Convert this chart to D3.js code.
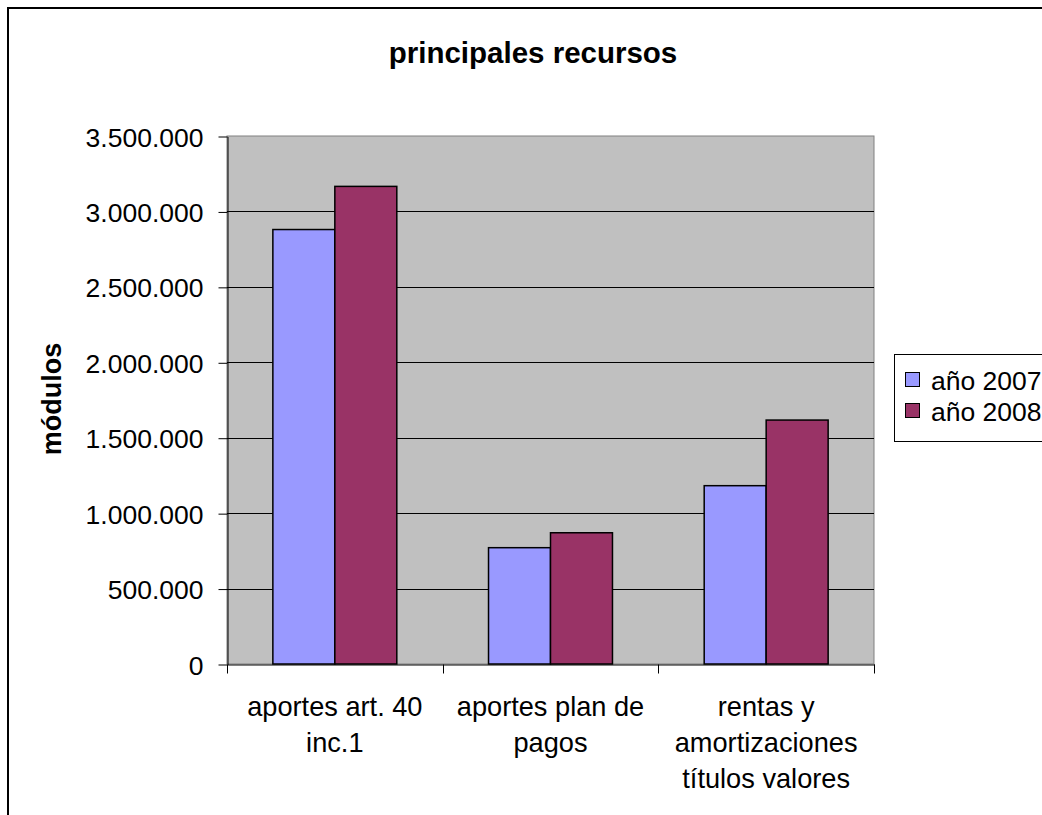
<!DOCTYPE html>
<html>
<head>
<meta charset="utf-8">
<script src="https://cdn.jsdelivr.net/npm/d3@7"></script>
<style>
    body { margin: 0; background: #fff; }
    text { font-family: "Liberation Sans", Arial, sans-serif; fill: #000; }
</style>
</head>
<body>
<div id="chart"></div>
<script>
const categories = ["aportes art. 40\ninc.1", "aportes plan de\npagos", "rentas y\namortizaciones\ntítulos valores"];
const seriesNames = ["año 2007", "año 2008"];
const values2007 = [2880000, 771000, 1182000];
const values2008 = [3166000, 870000, 1617000];
const yTicks = [0, 500000, 1000000, 1500000, 2000000, 2500000, 3000000, 3500000];
const colors = ["#9999FF", "#993366"];

const W = 1042, H = 815;
const plot = { left: 227, right: 874, top: 136, bottom: 664 };

const svg = d3.select("#chart").append("svg")
    .attr("width", W)
    .attr("height", H);

svg.append("rect").attr("width", W).attr("height", H).attr("fill", "#fff");

// outer chart border (runs off the right/bottom edge)
svg.append("rect")
    .attr("x", 8).attr("y", 8)
    .attr("width", 1200).attr("height", 1000)
    .attr("fill", "none")
    .attr("stroke", "#000")
    .attr("stroke-width", 2);

const x = d3.scaleBand()
    .domain(categories)
    .range([plot.left, plot.right]);

const xInner = d3.scaleBand()
    .domain(seriesNames)
    .range([0, x.bandwidth()])
    .paddingInner(0)
    .paddingOuter(0.74);

const y = d3.scaleLinear()
    .domain([0, 3500000])
    .range([plot.bottom, plot.top]);

const fmt = d3.formatLocale({ decimal: ",", thousands: ".", grouping: [3], currency: ["", ""] }).format(",d");

// plot background
svg.append("rect")
    .attr("x", plot.left).attr("y", plot.top)
    .attr("width", plot.right - plot.left)
    .attr("height", plot.bottom - plot.top)
    .attr("fill", "#C0C0C0")
    .attr("stroke", "#808080")
    .attr("stroke-width", 1);

// gridlines
svg.append("g").selectAll("line")
    .data(yTicks.filter(d => d > 0 && d < 3500000))
    .join("line")
    .attr("x1", plot.left).attr("x2", plot.right)
    .attr("y1", d => Math.round(y(d)) + 0.5)
    .attr("y2", d => Math.round(y(d)) + 0.5)
    .attr("stroke", "#000")
    .attr("stroke-width", 1);

// bars
const series = [values2007, values2008];
series.forEach((vals, si) => {
    svg.append("g").selectAll("rect")
        .data(vals)
        .join("rect")
        .attr("x", (d, i) => x(categories[i]) + xInner(seriesNames[si]))
        .attr("y", d => y(d))
        .attr("width", xInner.bandwidth())
        .attr("height", d => y(0) - y(d))
        .attr("fill", colors[si])
        .attr("stroke", "#000")
        .attr("stroke-width", 1.5);
});

// y axis
const yAxis = svg.append("g")
    .attr("transform", `translate(${plot.left + 0.5},0.5)`)
    .call(d3.axisLeft(y).tickValues(yTicks).tickFormat(fmt).tickSizeInner(9).tickSizeOuter(0).tickPadding(15));
yAxis.select(".domain").attr("stroke", "#000");
yAxis.selectAll(".tick line").attr("stroke", "#000");
yAxis.selectAll(".tick text")
    .attr("font-size", "26.5px")
    .attr("font-family", "Liberation Sans, Arial, sans-serif")
    .attr("fill", "#000")
    .attr("dy", "0.36em");

// x axis
const xAxis = svg.append("g")
    .attr("transform", `translate(0.5,${plot.bottom + 0.5})`)
    .call(d3.axisBottom(x).tickSize(0).tickFormat(""));
xAxis.select(".domain").attr("stroke", "#000");
xAxis.selectAll(".tick").remove();

const boundaries = d3.range(categories.length + 1).map(i => plot.left + i * x.step());
xAxis.selectAll("line.sep")
    .data(boundaries)
    .join("line")
    .attr("class", "sep")
    .attr("x1", d => Math.round(d)).attr("x2", d => Math.round(d))
    .attr("y1", 0).attr("y2", 9)
    .attr("stroke", "#000");

// category labels
const catLabels = svg.append("g");
categories.forEach(c => {
    const t = catLabels.append("text")
        .attr("x", x(c) + x.bandwidth() / 2)
        .attr("y", 716)
        .attr("text-anchor", "middle")
        .attr("font-size", "27.2px");
    c.split("\n").forEach((line, li) => {
        t.append("tspan")
            .attr("x", x(c) + x.bandwidth() / 2)
            .attr("dy", li === 0 ? 0 : 36)
            .text(line);
    });
});

// title
svg.append("text")
    .attr("x", 533)
    .attr("y", 63)
    .attr("text-anchor", "middle")
    .attr("font-size", "29.5px")
    .attr("font-weight", "bold")
    .text("principales recursos");

// y axis title
svg.append("text")
    .attr("transform", "translate(61,399) rotate(-90)")
    .attr("text-anchor", "middle")
    .attr("font-size", "27px")
    .attr("font-weight", "bold")
    .text("módulos");

// legend
const legend = svg.append("g");
legend.append("rect")
    .attr("x", 894.5).attr("y", 354.5)
    .attr("width", 300).attr("height", 87)
    .attr("fill", "#fff")
    .attr("stroke", "#000")
    .attr("stroke-width", 1);

const legendY = [380, 411];
seriesNames.forEach((name, i) => {
    legend.append("rect")
        .attr("x", 905.5).attr("y", legendY[i] - 7.5)
        .attr("width", 14).attr("height", 14)
        .attr("fill", colors[i])
        .attr("stroke", "#000")
        .attr("stroke-width", 1);
    legend.append("text")
        .attr("x", 931)
        .attr("y", legendY[i])
        .attr("dy", "0.36em")
        .attr("font-size", "26.5px")
        .text(name);
});
</script>
</body>
</html>
